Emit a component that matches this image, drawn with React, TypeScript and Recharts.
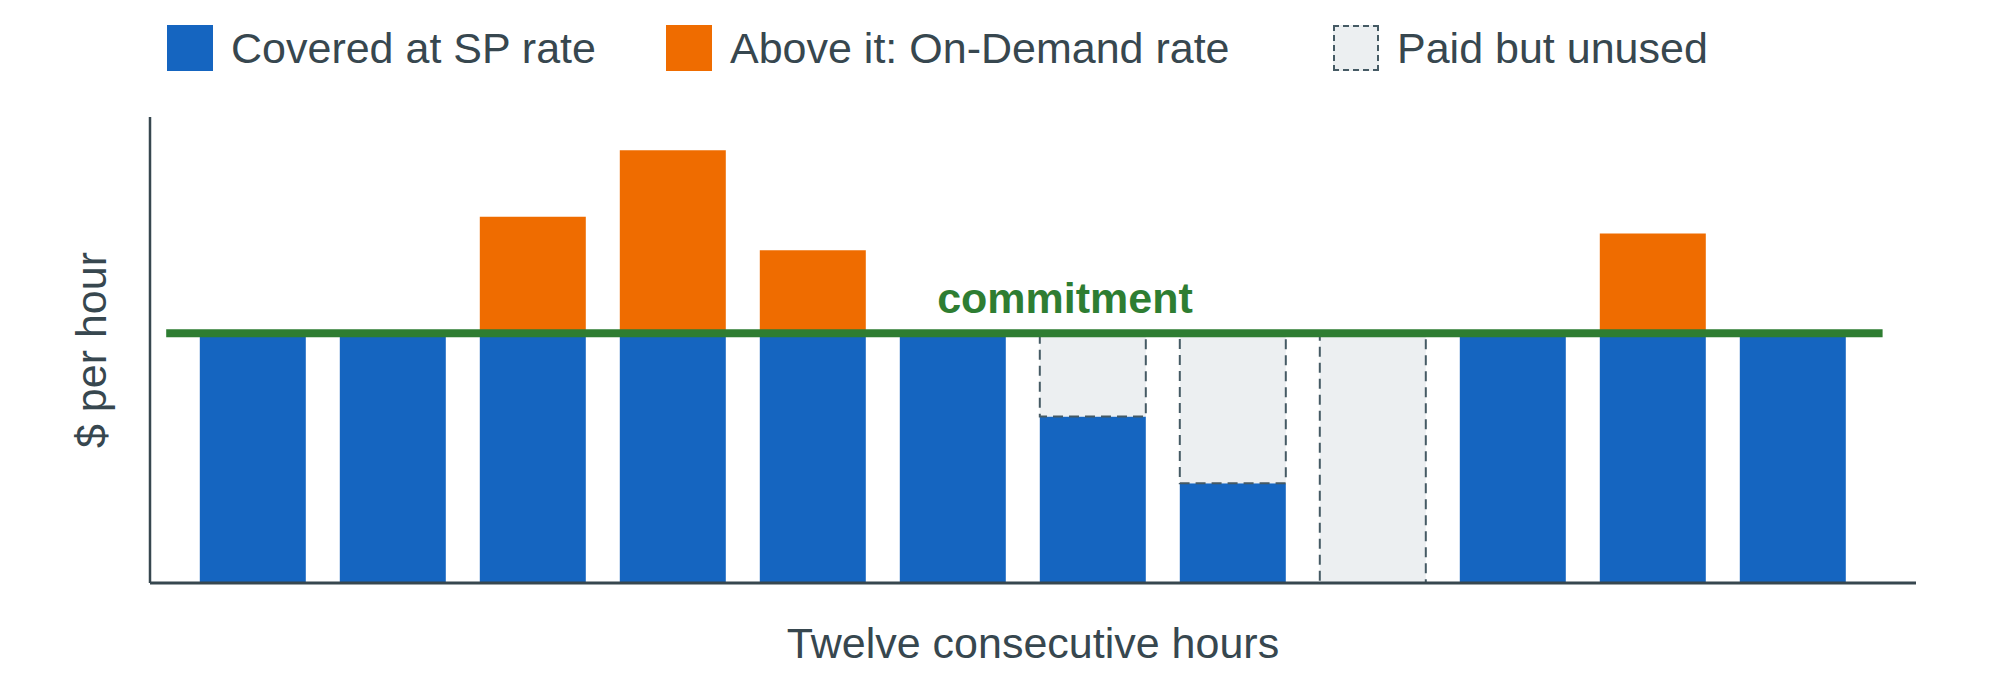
import {
    BarChart, Bar, XAxis, YAxis, ReferenceLine, ReferenceDot
} from 'recharts';

// twelve hours of usage against a fixed Savings Plan commitment ($/hour)
const hours = ['1', '2', '3', '4', '5', '6', '7', '8', '9', '10', '11', '12'];
const usage = [75, 75, 110, 130, 100, 75, 50, 30, 0, 75, 105, 75];
const commitment = 75;
const yMax = 140;

const legendItems = [
    { label: 'Covered at SP rate', color: '#1565c0', dashed: false },
    { label: 'Above it: On-Demand rate', color: '#ef6c00', dashed: false },
    { label: 'Paid but unused', color: '#eceff1', dashed: true },
];

const data = hours.map((hour, i) => ({
    hour,
    pos: i + 1,
    covered: Math.min(usage[i], commitment),
    unused: commitment - usage[i] > 0 ? commitment - usage[i] : null,
    above: usage[i] - commitment > 0 ? usage[i] - commitment : null,
}));

// plot geometry
const PLOT_LEFT = 150;
const PLOT_RIGHT = 1916;
const PAD_L = 33;
const PAD_R = 53;
const band = (PLOT_RIGHT - PLOT_LEFT - PAD_L - PAD_R) / hours.length;
// hidden numeric axis lined up with the hour bands (hour n centred at n)
const hourDomain = [1 - (PAD_L + band / 2) / band, hours.length + (PAD_R + band / 2) / band];
const commitmentSpan = [0.38, 12.64];
const commitmentLabelAt = 6.8;

const TEXT = '#37474f';
const DASH = '#455a64';
const FONT = '"Liberation Sans", Arial, sans-serif';
const FS = 43;

const Legend = () => {
    const widths = [499, 667, 400];
    return (
        <div style={{ position: 'absolute', top: 25, left: 167, display: 'flex', fontFamily: FONT }}>
            {legendItems.map((it, i) => (
                <div key={it.label} style={{ width: widths[i], display: 'flex', alignItems: 'center' }}>
                    <div style={{
                        width: 46, height: 46, boxSizing: 'border-box', background: it.color,
                        border: it.dashed ? `2px dashed ${DASH}` : 'none', marginRight: 18,
                    }} />
                    <span style={{ fontSize: FS, color: TEXT, lineHeight: '46px', whiteSpace: 'nowrap' }}>{it.label}</span>
                </div>
            ))}
        </div>
    );
};

export default function App() {
    return (
        <div style={{ position: 'fixed', left: 0, top: 0, width: 2000, height: 700, background: '#fff' }}>
            <Legend />
            <BarChart
                width={2000}
                height={700}
                data={data}
                margin={{ top: 117, right: 2000 - PLOT_RIGHT, left: PLOT_LEFT - 100, bottom: 0 }}
                barCategoryGap="12%"
                style={{ fontFamily: FONT }}
            >
                <XAxis
                    dataKey="hour"
                    tick={false}
                    tickLine={false}
                    height={117}
                    padding={{ left: PAD_L, right: PAD_R }}
                    axisLine={{ stroke: TEXT, strokeWidth: 3 }}
                    label={{ value: 'Twelve consecutive hours', position: 'insideTop', offset: 44, fill: TEXT, fontSize: FS }}
                />
                <XAxis
                    xAxisId="hours"
                    dataKey="pos"
                    type="number"
                    domain={hourDomain}
                    allowDataOverflow
                    hide
                />
                <YAxis
                    type="number"
                    domain={[0, yMax]}
                    allowDataOverflow
                    tick={false}
                    tickLine={false}
                    width={100}
                    axisLine={{ stroke: TEXT, strokeWidth: 2.5 }}
                    label={{
                        value: '$ per hour', angle: -90, position: 'insideLeft', offset: 41,
                        fill: TEXT, fontSize: FS, style: { textAnchor: 'middle' },
                    }}
                />
                <Bar dataKey="covered" stackId="a" fill="#1565c0" isAnimationActive={false} />
                <Bar
                    dataKey="unused"
                    stackId="a"
                    fill="#eceff1"
                    stroke={DASH}
                    strokeWidth={2}
                    strokeDasharray="10 6"
                    isAnimationActive={false}
                />
                <Bar dataKey="above" stackId="a" fill="#ef6c00" isAnimationActive={false} />
                <ReferenceLine
                    xAxisId="hours"
                    segment={[{ x: commitmentSpan[0], y: commitment }, { x: commitmentSpan[1], y: commitment }]}
                    stroke="#2e7d32"
                    strokeWidth={8}
                    ifOverflow="visible"
                />
                <ReferenceDot
                    xAxisId="hours"
                    x={commitmentLabelAt}
                    y={commitment}
                    r={0}
                    fill="none"
                    stroke="none"
                    ifOverflow="visible"
                    label={{ value: 'commitment', position: 'top', offset: 20, fill: '#2e7d32', fontSize: FS, fontWeight: 'bold' }}
                />
            </BarChart>
        </div>
    );
}
